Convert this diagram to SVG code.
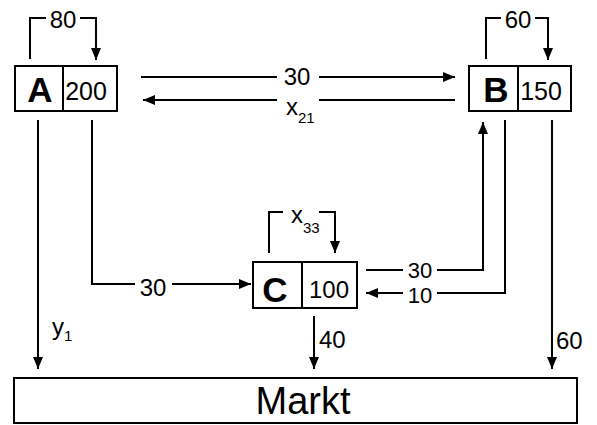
<svg xmlns="http://www.w3.org/2000/svg" width="597" height="425" viewBox="0 0 597 425">
<defs>
<marker id="ah" viewBox="0 0 12 10" refX="12" refY="5" markerWidth="12" markerHeight="10" markerUnits="userSpaceOnUse" orient="auto">
<path d="M0,0 L12,5 L0,10 Z" fill="#000"/>
</marker>
</defs>
<style>
.box{fill:#fff;stroke:#000;stroke-width:2}
.ln{fill:none;stroke:#000;stroke-width:2}
.ar{fill:none;stroke:#000;stroke-width:2;marker-end:url(#ah)}
.t{font-family:"Liberation Sans",Arial,sans-serif;font-size:24px;fill:#000}
.s{font-family:"Liberation Sans",Arial,sans-serif;font-size:22px;fill:#000}
.v{font-family:"Liberation Sans",Arial,sans-serif;font-size:25px;fill:#000}
.big{font-family:"Liberation Sans",Arial,sans-serif;font-size:35px;font-weight:bold;fill:#000}
.sub{font-size:15px}
.m{font-family:"Liberation Sans",Arial,sans-serif;font-size:38px;fill:#000}
</style>
<g id="A">
<rect class="box" x="15" y="66" width="102" height="45"/>
<line class="ln" x1="63" y1="66" x2="63" y2="111"/>
<text class="big" x="40" y="102" text-anchor="middle">A</text>
<text class="v" x="86" y="100" text-anchor="middle">200</text>
</g>
<g id="B">
<rect class="box" x="469" y="66" width="102" height="45"/>
<line class="ln" x1="518" y1="66" x2="518" y2="111"/>
<text class="big" x="496" y="102" text-anchor="middle">B</text>
<text class="v" x="541" y="100" text-anchor="middle">150</text>
</g>
<g id="C">
<rect class="box" x="253" y="262" width="104" height="46"/>
<line class="ln" x1="302" y1="262" x2="302" y2="308"/>
<text class="big" x="275" y="302" text-anchor="middle">C</text>
<text class="t" x="329" y="298" text-anchor="middle">100</text>
</g>
<g id="Markt">
<rect class="box" x="14" y="378" width="563" height="45"/>
<text class="m" x="303" y="414" text-anchor="middle">Markt</text>
</g>
<g id="connectors">
<path class="ln" d="M30,59 V18 H46"/>
<path class="ar" d="M80,18 H96 V60"/>
<text class="t" x="63" y="28" text-anchor="middle">80</text>
<path class="ln" d="M486,59 V18 H501"/>
<path class="ar" d="M535,18 H548 V60"/>
<text class="t" x="518" y="28" text-anchor="middle">60</text>
<path class="ln" d="M141,77 H277"/>
<path class="ar" d="M319,77 H455"/>
<text class="t" x="297" y="85" text-anchor="middle">30</text>
<path class="ln" d="M455,100 H319"/>
<path class="ar" d="M277,100 H143"/>
<text class="t" x="286" y="115">x<tspan class="sub" dy="8">21</tspan></text>
<path class="ln" d="M269,253 V212 H283"/>
<path class="ar" d="M319,212 H335 V253"/>
<text class="t" x="291" y="223">x<tspan class="sub" dy="10">33</tspan></text>
<path class="ln" d="M92,120 V284 H135"/>
<path class="ar" d="M172,284 H251"/>
<text class="t" x="153" y="296" text-anchor="middle">30</text>
<path class="ln" d="M366,270 H403"/>
<path class="ar" d="M437,270 H483 V122"/>
<text class="s" x="420" y="278" text-anchor="middle">30</text>
<path class="ln" d="M505,120 V293 H437"/>
<path class="ar" d="M403,293 H366"/>
<text class="s" x="420" y="303" text-anchor="middle">10</text>
<path class="ar" d="M38,120 V369"/>
<text class="t" x="52" y="335">y<tspan class="sub" dy="6">1</tspan></text>
<path class="ar" d="M314,316 V369"/>
<text class="t" x="319" y="348">40</text>
<path class="ar" d="M552,120 V369"/>
<text class="t" x="556" y="349">60</text>
</g>
</svg>
